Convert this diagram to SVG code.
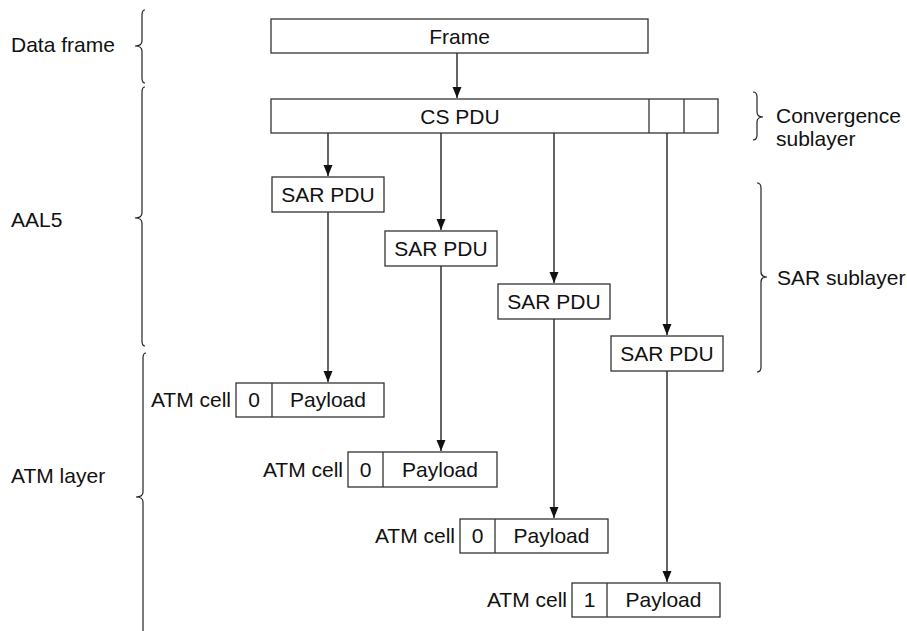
<svg xmlns="http://www.w3.org/2000/svg" width="907" height="631" viewBox="0 0 907 631">
<style>
text{font-family:"Liberation Sans",Arial,sans-serif;font-size:21px;fill:#111}
.c{text-anchor:middle}
.e{text-anchor:end}
.box{fill:#fff;stroke:#333;stroke-width:1.3}
.ln{stroke:#111;stroke-width:1.3;fill:none}
.br{stroke:#222;stroke-width:1.2;fill:none}
</style>
<defs>
<marker id="ah" viewBox="0 0 11 10" refX="11" refY="5" markerWidth="11" markerHeight="10" markerUnits="userSpaceOnUse" orient="auto">
<path d="M0,0.5 L11,5 L0,9.5 Z" fill="#111"/>
</marker>
</defs>
<rect width="907" height="631" fill="#fff"/>

<g id="connectors">
<line class="ln" x1="457" y1="53" x2="457" y2="98" marker-end="url(#ah)"/>
<line class="ln" x1="328" y1="133" x2="328" y2="176" marker-end="url(#ah)"/>
<line class="ln" x1="441" y1="133" x2="441" y2="230" marker-end="url(#ah)"/>
<line class="ln" x1="554" y1="133" x2="554" y2="283" marker-end="url(#ah)"/>
<line class="ln" x1="667" y1="133" x2="667" y2="335" marker-end="url(#ah)"/>
<line class="ln" x1="328" y1="212" x2="328" y2="382" marker-end="url(#ah)"/>
<line class="ln" x1="441" y1="266" x2="441" y2="451" marker-end="url(#ah)"/>
<line class="ln" x1="554" y1="319" x2="554" y2="518" marker-end="url(#ah)"/>
<line class="ln" x1="667" y1="371" x2="667" y2="582" marker-end="url(#ah)"/>
</g>

<g id="braces">
<g id="brace-data-frame">
<path class="br" d="M145,10 Q142,10 142,15 L142,41 Q142,46 135,46 Q142,46 142,51 L142,78 Q142,83 145,83"/>
<text x="11" y="52">Data frame</text>
</g>
<g id="brace-aal5">
<path class="br" d="M145,87 Q142,87 142,92 L142,213 Q142,218 135,218 Q142,218 142,223 L142,341 Q142,346 145,346"/>
<text x="11" y="227">AAL5</text>
</g>
<g id="brace-atm-layer">
<path class="br" d="M146,353 Q143,353 143,358 L143,492 Q143,497 136,497 Q143,497 143,502 L143,640"/>
<text x="11" y="483">ATM layer</text>
</g>
<g id="brace-convergence">
<path class="br" d="M753,92 Q757,92 757,97 L757,112 Q757,117 763,117 Q757,117 757,122 L757,135 Q757,140 753,140"/>
<text x="776" y="123">Convergence</text>
<text x="776" y="146">sublayer</text>
</g>
<g id="brace-sar">
<path class="br" d="M757,183 Q761,183 761,188 L761,272 Q761,277 767,277 Q761,277 761,282 L761,367 Q761,372 757,372"/>
<text x="777" y="285">SAR sublayer</text>
</g>
</g>

<g id="frame">
<rect class="box" x="271" y="19" width="377" height="34"/>
<text class="c" x="459.5" y="43.5">Frame</text>
</g>

<g id="cs-pdu">
<rect class="box" x="271" y="99" width="447" height="34"/>
<line class="box" x1="649" y1="99" x2="649" y2="133"/>
<line class="box" x1="684" y1="99" x2="684" y2="133"/>
<text class="c" x="460" y="123.5">CS PDU</text>
</g>

<g id="sar-pdu-1">
<rect class="box" x="272" y="177" width="112" height="35"/>
<text class="c" x="328" y="202">SAR PDU</text>
</g>
<g id="sar-pdu-2">
<rect class="box" x="385" y="231" width="112" height="35"/>
<text class="c" x="441" y="256">SAR PDU</text>
</g>
<g id="sar-pdu-3">
<rect class="box" x="498" y="284" width="112" height="35"/>
<text class="c" x="554" y="309">SAR PDU</text>
</g>
<g id="sar-pdu-4">
<rect class="box" x="611" y="336" width="112" height="35"/>
<text class="c" x="667" y="361">SAR PDU</text>
</g>

<g id="atm-cell-1">
<text class="e" x="231" y="407">ATM cell</text>
<rect class="box" x="236" y="383" width="148" height="34"/>
<line class="box" x1="272" y1="383" x2="272" y2="417"/>
<text class="c" x="254" y="407">0</text>
<text class="c" x="328" y="407">Payload</text>
</g>
<g id="atm-cell-2">
<text class="e" x="343" y="477">ATM cell</text>
<rect class="box" x="348" y="452" width="149" height="35"/>
<line class="box" x1="383" y1="452" x2="383" y2="487"/>
<text class="c" x="365.5" y="477">0</text>
<text class="c" x="440" y="477">Payload</text>
</g>
<g id="atm-cell-3">
<text class="e" x="455" y="543">ATM cell</text>
<rect class="box" x="460" y="519" width="148" height="34"/>
<line class="box" x1="495" y1="519" x2="495" y2="553"/>
<text class="c" x="477.5" y="543">0</text>
<text class="c" x="551.5" y="543">Payload</text>
</g>
<g id="atm-cell-4">
<text class="e" x="567" y="607">ATM cell</text>
<rect class="box" x="572" y="583" width="148" height="34"/>
<line class="box" x1="607" y1="583" x2="607" y2="617"/>
<text class="c" x="589.5" y="607">1</text>
<text class="c" x="663.5" y="607">Payload</text>
</g>
</svg>
